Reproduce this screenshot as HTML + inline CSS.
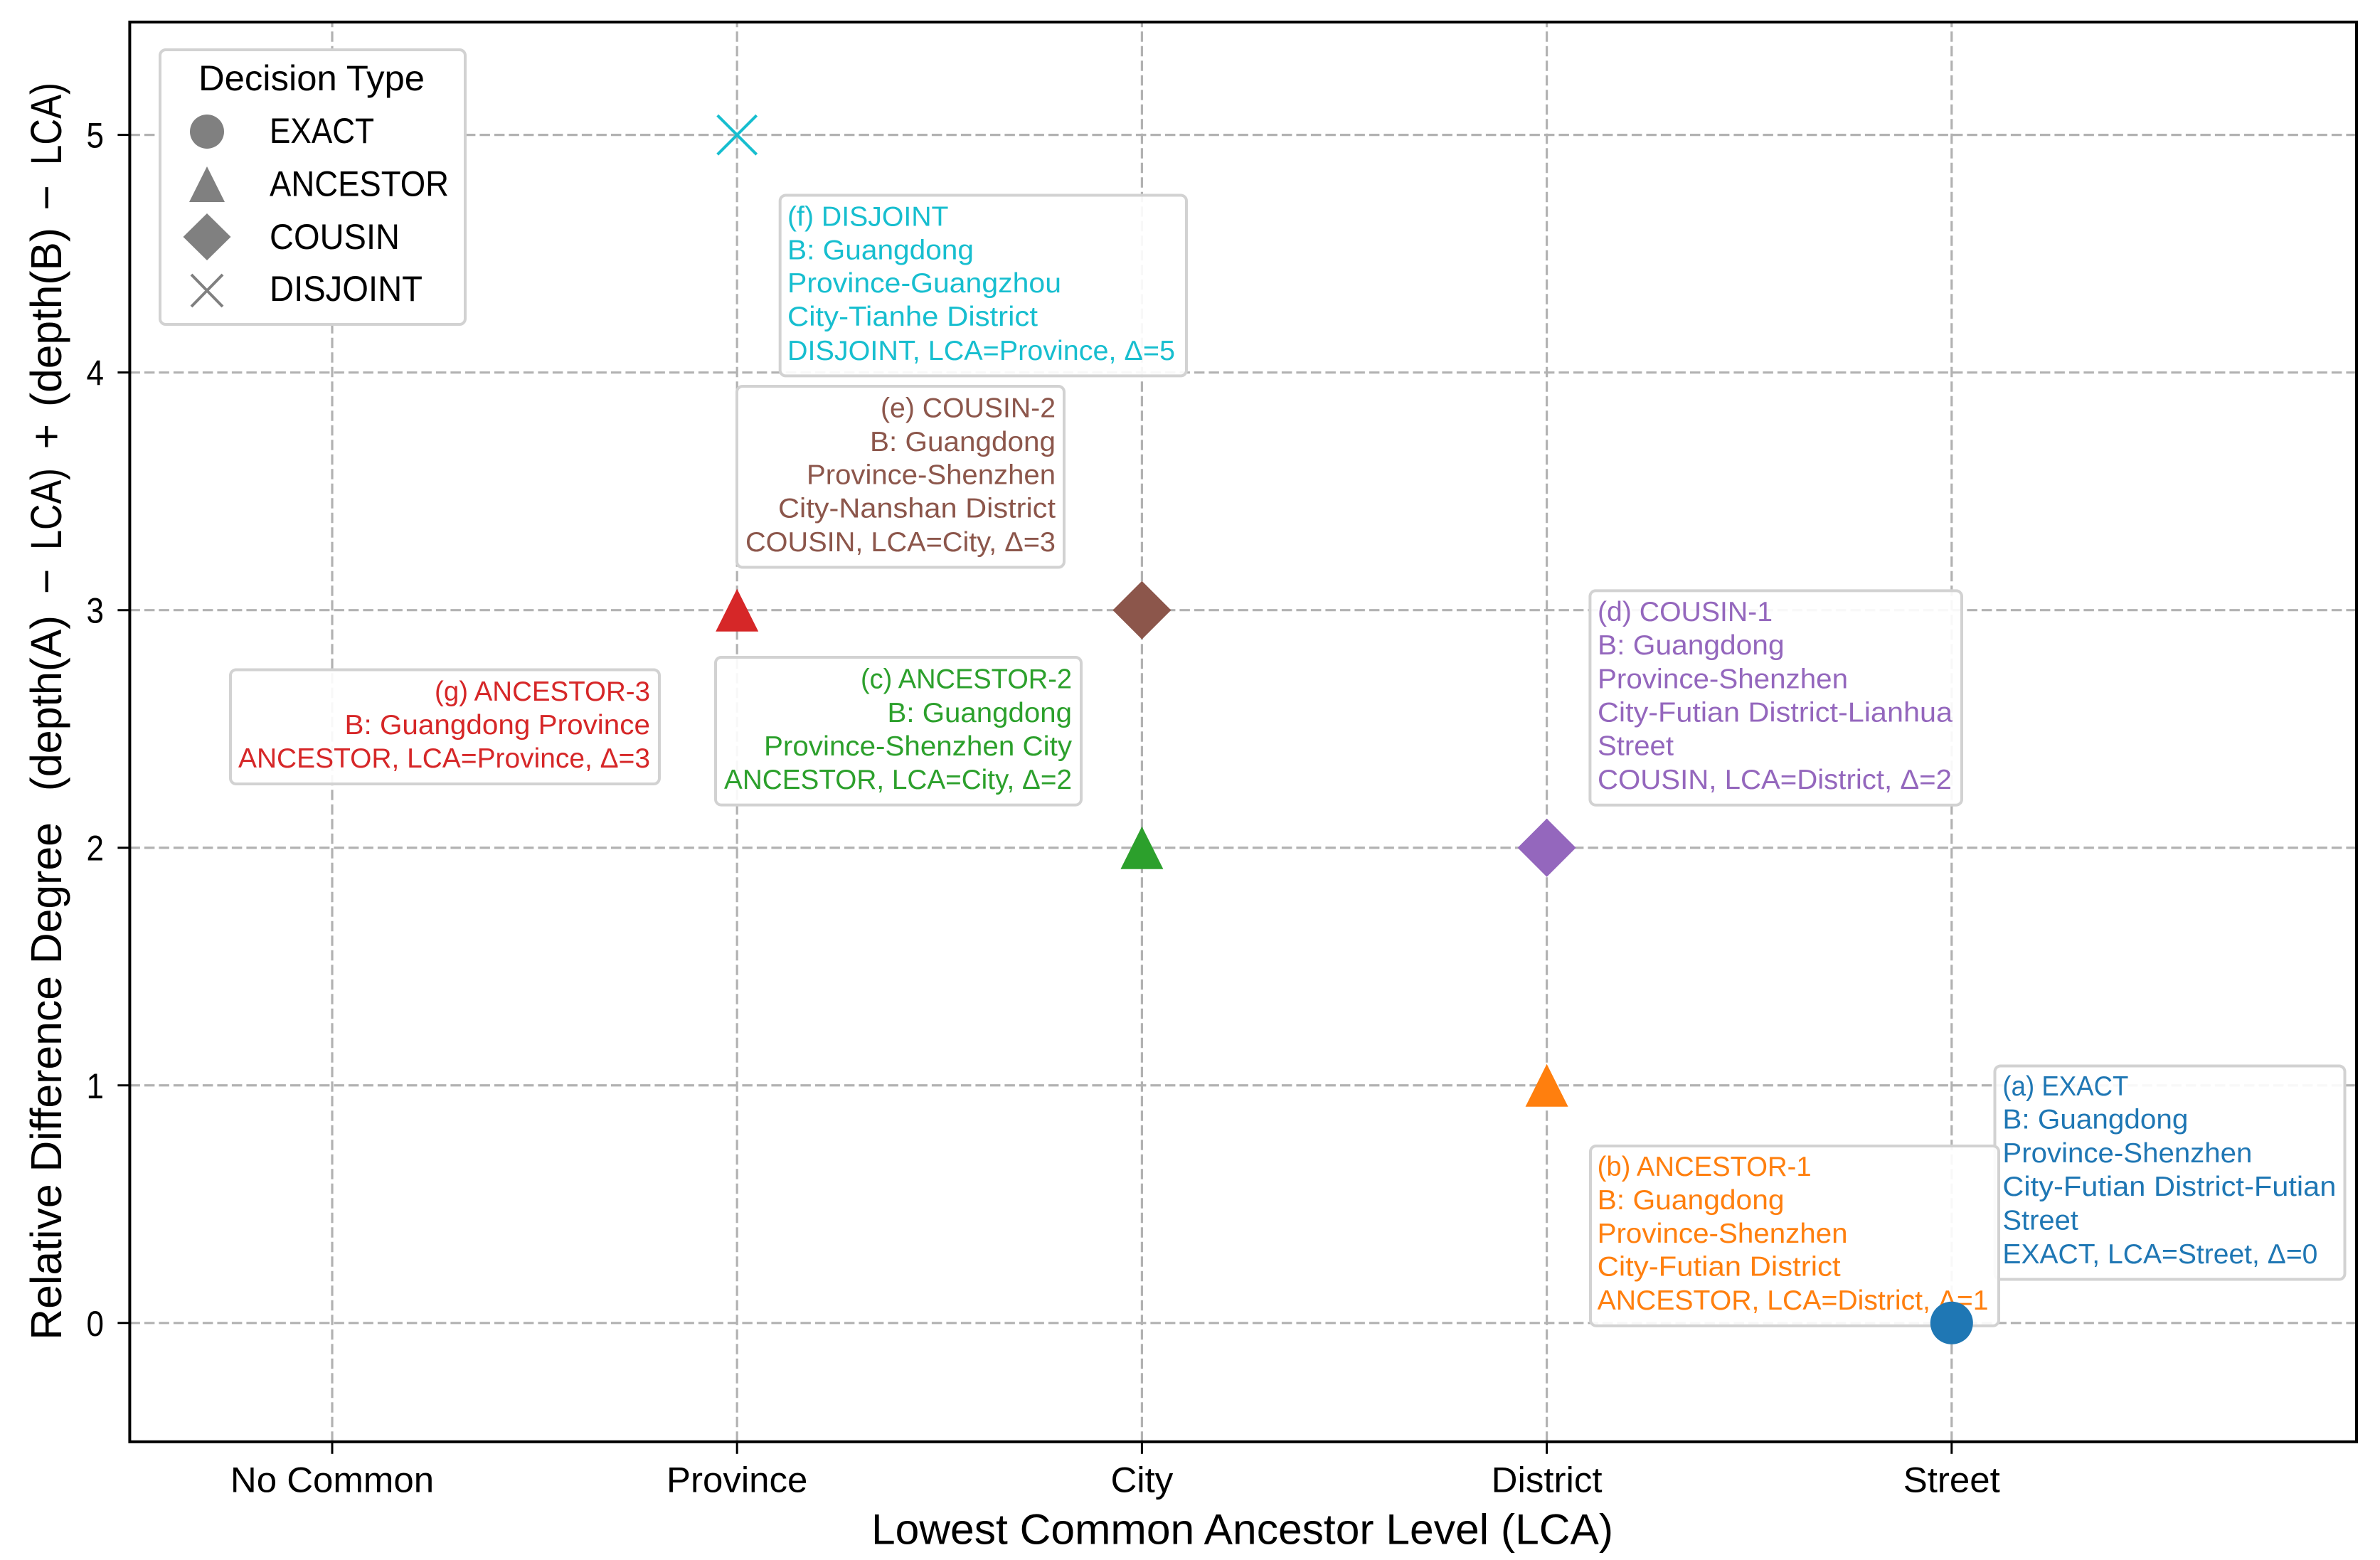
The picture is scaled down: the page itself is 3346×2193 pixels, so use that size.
<!DOCTYPE html>
<html lang="en">
<head>
<meta charset="utf-8">
<title>Relative Difference Degree vs Lowest Common Ancestor Level</title>
<style>
html,body{margin:0;padding:0;background:#fff;width:3346px;height:2193px;overflow:hidden}
svg{display:block}
text{font-family:"Liberation Sans","Noto Sans CJK SC",sans-serif;white-space:pre}
.ann{font-size:39px}
.box{fill:#fff;fill-opacity:.9;stroke:#d2d2d2;stroke-width:4}
</style>
</head>
<body>
<svg id="chart" xmlns="http://www.w3.org/2000/svg" width="3346" height="2193" viewBox="0 0 3346 2193">
  <rect width="3346" height="2193" fill="#ffffff"/>
  <g id="grid"></g>

  <g>
    <g fill="#1f77b4">
      <rect class="box" x="2804.5" y="1498.5" width="492" height="300" rx="8"/>
      <text class="ann" x="2815.4" y="1540" textLength="177" lengthAdjust="spacingAndGlyphs">(a) EXACT</text>
      <text class="ann" x="2815.4" y="1586.5" textLength="261" lengthAdjust="spacingAndGlyphs">B: Guangdong</text>
      <text class="ann" x="2815.4" y="1634" textLength="351" lengthAdjust="spacingAndGlyphs">Province-Shenzhen</text>
      <text class="ann" x="2815.4" y="1681" textLength="469" lengthAdjust="spacingAndGlyphs">City-Futian District-Futian</text>
      <text class="ann" x="2815.4" y="1728.7" textLength="106.5" lengthAdjust="spacingAndGlyphs">Street</text>
      <text class="ann" x="2815.4" y="1776" textLength="443" lengthAdjust="spacingAndGlyphs">EXACT, LCA=Street, Δ=0</text>
    </g>
    <g fill="#ff7f0e">
      <rect class="box" x="2236" y="1611" width="574" height="252.7" rx="8"/>
      <text class="ann" x="2245.6" y="1652.8" textLength="301" lengthAdjust="spacingAndGlyphs">(b) ANCESTOR-1</text>
      <text class="ann" x="2245.6" y="1699.8" textLength="263" lengthAdjust="spacingAndGlyphs">B: Guangdong</text>
      <text class="ann" x="2245.6" y="1747" textLength="352" lengthAdjust="spacingAndGlyphs">Province-Shenzhen</text>
      <text class="ann" x="2245.6" y="1793.6" textLength="342" lengthAdjust="spacingAndGlyphs">City-Futian District</text>
      <text class="ann" x="2245.6" y="1841" textLength="550" lengthAdjust="spacingAndGlyphs">ANCESTOR, LCA=District, Δ=1</text>
    </g>
    <g fill="#2ca02c">
      <rect class="box" x="1006" y="924" width="514" height="207.6" rx="8"/>
      <text class="ann" x="1210" y="967.6" textLength="297" lengthAdjust="spacingAndGlyphs">(c) ANCESTOR-2</text>
      <text class="ann" x="1247.5" y="1015" textLength="259.5" lengthAdjust="spacingAndGlyphs">B: Guangdong</text>
      <text class="ann" x="1074" y="1062" textLength="433" lengthAdjust="spacingAndGlyphs">Province-Shenzhen City</text>
      <text class="ann" x="1018" y="1109" textLength="489" lengthAdjust="spacingAndGlyphs">ANCESTOR, LCA=City, Δ=2</text>
    </g>
    <g fill="#9467bd">
      <rect class="box" x="2235.4" y="830.4" width="522.6" height="301.3" rx="8"/>
      <text class="ann" x="2246" y="873" textLength="246" lengthAdjust="spacingAndGlyphs">(d) COUSIN-1</text>
      <text class="ann" x="2246" y="920" textLength="262.6" lengthAdjust="spacingAndGlyphs">B: Guangdong</text>
      <text class="ann" x="2246" y="967.3" textLength="352" lengthAdjust="spacingAndGlyphs">Province-Shenzhen</text>
      <text class="ann" x="2246" y="1014.5" textLength="499" lengthAdjust="spacingAndGlyphs">City-Futian District-Lianhua</text>
      <text class="ann" x="2246" y="1061.5" textLength="107" lengthAdjust="spacingAndGlyphs">Street</text>
      <text class="ann" x="2246" y="1108.8" textLength="498" lengthAdjust="spacingAndGlyphs">COUSIN, LCA=District, Δ=2</text>
    </g>
    <g fill="#8c564b">
      <rect class="box" x="1036" y="543" width="460" height="254.5" rx="8"/>
      <text class="ann" x="1238" y="586.6" textLength="246" lengthAdjust="spacingAndGlyphs">(e) COUSIN-2</text>
      <text class="ann" x="1223" y="633.9" textLength="261" lengthAdjust="spacingAndGlyphs">B: Guangdong</text>
      <text class="ann" x="1134" y="680.7" textLength="350" lengthAdjust="spacingAndGlyphs">Province-Shenzhen</text>
      <text class="ann" x="1094" y="727.5" textLength="390" lengthAdjust="spacingAndGlyphs">City-Nanshan District</text>
      <text class="ann" x="1048" y="774.8" textLength="436" lengthAdjust="spacingAndGlyphs">COUSIN, LCA=City, Δ=3</text>
    </g>
    <g fill="#17becf">
      <rect class="box" x="1096.7" y="274.5" width="571.3" height="253.9" rx="8"/>
      <text class="ann" x="1107" y="317.3" textLength="226.5" lengthAdjust="spacingAndGlyphs">(f) DISJOINT</text>
      <text class="ann" x="1107" y="364.3" textLength="262" lengthAdjust="spacingAndGlyphs">B: Guangdong</text>
      <text class="ann" x="1107" y="411.2" textLength="385" lengthAdjust="spacingAndGlyphs">Province-Guangzhou</text>
      <text class="ann" x="1107" y="458.2" textLength="352" lengthAdjust="spacingAndGlyphs">City-Tianhe District</text>
      <text class="ann" x="1107" y="506" textLength="545" lengthAdjust="spacingAndGlyphs">DISJOINT, LCA=Province, Δ=5</text>
    </g>
    <g fill="#d62728">
      <rect class="box" x="324" y="941.5" width="603" height="160.5" rx="8"/>
      <text class="ann" x="611" y="985" textLength="303" lengthAdjust="spacingAndGlyphs">(g) ANCESTOR-3</text>
      <text class="ann" x="484.5" y="1032" textLength="429.5" lengthAdjust="spacingAndGlyphs">B: Guangdong Province</text>
      <text class="ann" x="335" y="1079" textLength="579" lengthAdjust="spacingAndGlyphs">ANCESTOR, LCA=Province, Δ=3</text>
    </g>
  </g>

  <g id="marks"></g>
  <g id="axes"></g>

  <rect x="182.4" y="31" width="3130.6" height="1995.8" fill="none" stroke="#000" stroke-width="4"/>

  <text x="1225" y="2170.7" font-size="60" textLength="1043" lengthAdjust="spacingAndGlyphs" fill="#000">Lowest Common Ancestor Level (LCA)</text>
  <text transform="translate(86,1883.7) rotate(-90)" font-size="61" fill="#000"><tspan x="0" textLength="727.6" lengthAdjust="spacingAndGlyphs">Relative Difference Degree</tspan> <tspan x="771.7" textLength="247" lengthAdjust="spacingAndGlyphs">(depth(A)</tspan> <tspan x="1048.5">−</tspan> <tspan x="1110.7" textLength="115" lengthAdjust="spacingAndGlyphs">LCA)</tspan> <tspan x="1252.2">+</tspan> <tspan x="1311.7" textLength="252" lengthAdjust="spacingAndGlyphs">(depth(B)</tspan> <tspan x="1588">−</tspan> <tspan x="1651.7" textLength="116" lengthAdjust="spacingAndGlyphs">LCA)</tspan></text>

  <g>
    <rect x="225" y="70" width="429" height="386" rx="8" fill="#fff" stroke="#d2d2d2" stroke-width="4"/>
    <text x="279" y="127" font-size="50" textLength="318" lengthAdjust="spacingAndGlyphs" fill="#000">Decision Type</text>
    <g>
      <circle cx="291" cy="185" r="24" fill="#808080"/>
      <text x="379" y="201" font-size="50" textLength="147" lengthAdjust="spacingAndGlyphs" fill="#000">EXACT</text>
    </g>
    <g>
      <polygon points="291,234 316,284 266,284" fill="#808080"/>
      <text x="379" y="275.5" font-size="50" textLength="252" lengthAdjust="spacingAndGlyphs" fill="#000">ANCESTOR</text>
    </g>
    <g>
      <polygon points="291,300 324.5,333 291,366 257.5,333" fill="#808080"/>
      <text x="379" y="350" font-size="50" textLength="183" lengthAdjust="spacingAndGlyphs" fill="#000">COUSIN</text>
    </g>
    <g>
      <path d="M269,386 L313,431 M313,386 L269,431" stroke="#808080" stroke-width="4" fill="none"/>
      <text x="379" y="423" font-size="50" textLength="215" lengthAdjust="spacingAndGlyphs" fill="#000">DISJOINT</text>
    </g>
  </g>
</svg>

<script>
// Chart data
const categories = ['No Common', 'Province', 'City', 'District', 'Street'];
const yTickValues = [0, 1, 2, 3, 4, 5];
const pointNames = ['a', 'b', 'c', 'd', 'e', 'f', 'g'];
const pointLevels = [4, 3, 2, 3, 2, 1, 1];
const pointDeltas = [0, 1, 2, 2, 3, 5, 3];
const pointTypes = ['EXACT', 'ANCESTOR', 'ANCESTOR', 'COUSIN', 'COUSIN', 'DISJOINT', 'ANCESTOR'];

// Styling and axis geometry
const palette = { a: '#1f77b4', b: '#ff7f0e', c: '#2ca02c', d: '#9467bd', e: '#8c564b', f: '#17becf', g: '#d62728' };
const NS = 'http://www.w3.org/2000/svg';
const plot = { left: 182.4, right: 3313, top: 31, bottom: 2026.8 };
const xDomain = [-0.5, 5];
const yDomain = [-0.5, 5.475];

function xScale(v) {
  return plot.left + (v - xDomain[0]) / (xDomain[1] - xDomain[0]) * (plot.right - plot.left);
}
function yScale(v) {
  return plot.bottom - (v - yDomain[0]) / (yDomain[1] - yDomain[0]) * (plot.bottom - plot.top);
}
function make(tag, attrs) {
  const el = document.createElementNS(NS, tag);
  Object.keys(attrs).forEach(function (k) { el.setAttribute(k, attrs[k]); });
  return el;
}

const gridGroup = document.getElementById('grid');
const axesGroup = document.getElementById('axes');
const marksGroup = document.getElementById('marks');
const gridStyle = { stroke: '#b2b2b2', 'stroke-width': 3.2, 'stroke-dasharray': '14.5 6' };

categories.forEach(function (label, i) {
  const x = xScale(i);
  const grid = make('line', Object.assign({ x1: x, x2: x, y1: plot.bottom, y2: plot.top }, gridStyle));
  
  
  gridGroup.appendChild(grid);

  const tick = make('line', { x1: x, x2: x, y1: plot.bottom, y2: plot.bottom + 17, stroke: '#000', 'stroke-width': 3 });
  
  
  axesGroup.appendChild(tick);

  const text = make('text', { x: x, y: 2097.3, 'font-size': 50, 'text-anchor': 'middle', fill: '#000' });
  
  
  text.textContent = label;
  axesGroup.appendChild(text);
  text.setAttribute('textLength', text.getComputedTextLength() * 1.02);
  text.setAttribute('lengthAdjust', 'spacingAndGlyphs');
});

yTickValues.forEach(function (v) {
  const y = yScale(v);
  const grid = make('line', Object.assign({ x1: plot.left, x2: plot.right, y1: y, y2: y }, gridStyle));
  
  
  gridGroup.appendChild(grid);

  const tick = make('line', { x1: plot.left - 17, x2: plot.left, y1: y, y2: y, stroke: '#000', 'stroke-width': 3 });
  
  
  axesGroup.appendChild(tick);

  const text = make('text', { x: 146, y: y + 18, 'font-size': 50, 'text-anchor': 'end', fill: '#000' });
  
  
  text.textContent = String(v);
  axesGroup.appendChild(text);
  text.setAttribute('textLength', text.getComputedTextLength() * 0.88);
  text.setAttribute('lengthAdjust', 'spacingAndGlyphs');
});

function markerFor(type, x, y, color) {
  if (type === 'EXACT') {
    return make('circle', { cx: x, cy: y, r: 30, fill: color });
  }
  if (type === 'ANCESTOR') {
    return make('polygon', { points: x + ',' + (y - 30) + ' ' + (x + 30) + ',' + (y + 30) + ' ' + (x - 30) + ',' + (y + 30), fill: color });
  }
  if (type === 'COUSIN') {
    return make('polygon', { points: x + ',' + (y - 41) + ' ' + (x + 41) + ',' + y + ' ' + x + ',' + (y + 41) + ' ' + (x - 41) + ',' + y, fill: color });
  }
  const r = 27.5;
  return make('path', { d: 'M' + (x - r) + ',' + (y - r) + 'L' + (x + r) + ',' + (y + r) + 'M' + (x + r) + ',' + (y - r) + 'L' + (x - r) + ',' + (y + r), stroke: color, 'stroke-width': 4, fill: 'none' });
}

pointNames.forEach(function (name, i) {
  const mark = markerFor(pointTypes[i], xScale(pointLevels[i]), yScale(pointDeltas[i]), palette[name]);
  
  
  marksGroup.appendChild(mark);
});
</script>
</body>
</html>
